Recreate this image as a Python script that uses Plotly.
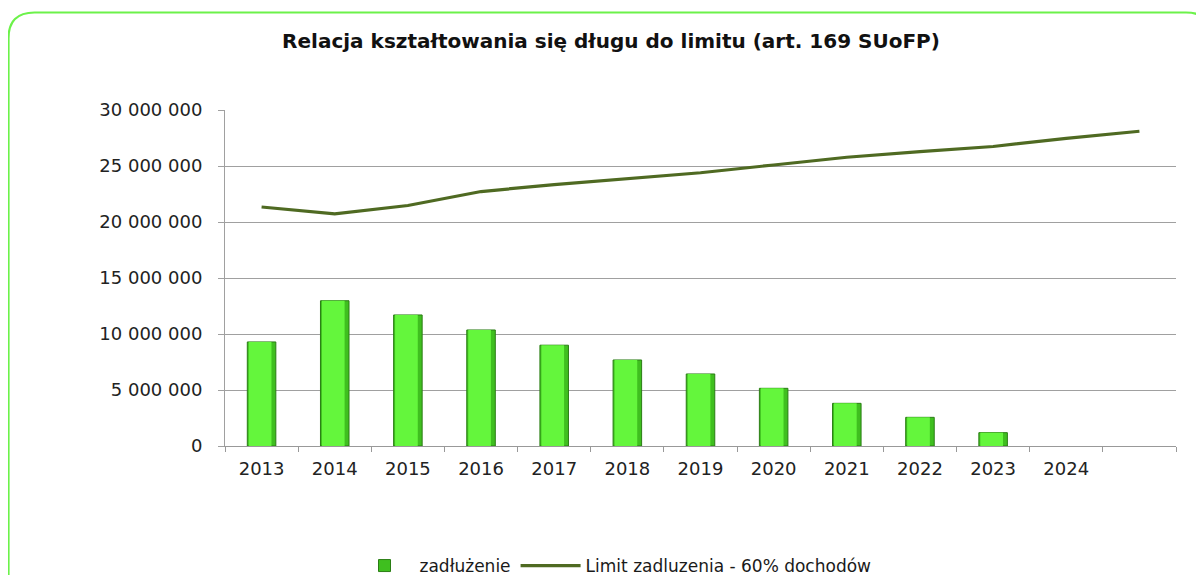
import plotly.graph_objects as go

# ---- data ----
years = ["2013", "2014", "2015", "2016", "2017", "2018", "2019", "2020",
         "2021", "2022", "2023", "2024", " "]
zadluzenie = [9290000, 12970000, 11700000, 10360000, 9000000, 7680000,
              6430000, 5150000, 3810000, 2560000, 1190000, None, None]
limit = [21340000, 20720000, 21470000, 22720000, 23340000, 23880000,
         24400000, 25090000, 25780000, 26290000, 26740000, 27470000, 28100000]
ytick_vals = [0, 5000000, 10000000, 15000000, 20000000, 25000000, 30000000]

# ---- page geometry (the html body adds an 8px margin on every side) ----
OFF = 8
W, H = 1204 - 2 * OFF, 583 - 2 * OFF
L, R, T, B = 225 - OFF, 1176 - OFF, 110 - OFF, 446 - OFF


def px(x):  # page pixel -> paper x
    return (x - OFF - L) / (R - L)


def py(y):  # page pixel -> paper y
    return (B - (y - OFF)) / (B - T)


def cx(x):  # page pixel -> container x
    return (x - OFF) / W


def cy(y):  # page pixel -> container y
    return 1 - (y - OFF) / H


fig = go.Figure()
# bar with darker bevelled edges
fig.add_trace(go.Bar(
    x=years, y=zadluzenie, name="zadłużenie", width=0.39,
    marker=dict(color="#3fbf1f", line=dict(color="#2a7d14", width=1)),
))
# lighter face of the bar
fig.add_trace(go.Bar(
    x=years, y=zadluzenie, name="zadłużenie", width=0.31, offset=-0.175,
    marker=dict(color="#64f63c", line=dict(width=0)),
    showlegend=False, hoverinfo="skip",
))
fig.add_trace(go.Scatter(
    x=years, y=limit, name="Limit zadluzenia - 60% dochodów", mode="lines",
    line=dict(color="#4f6a22", width=3.2),
))

# rounded green frame
x0, x1, y0, y1, r = 8.5, 1212, 12.5, 620, 26
path = (f"M {px(x0)},{py(y1)} L {px(x0)},{py(y0 + r)} "
        f"Q {px(x0)},{py(y0)} {px(x0 + r)},{py(y0)} "
        f"L {px(x1 - r)},{py(y0)} Q {px(x1)},{py(y0)} {px(x1)},{py(y0 + r)} "
        f"L {px(x1)},{py(y1)}")

fig.update_layout(
    width=W, height=H,
    margin=dict(l=L, r=W - R, t=T, b=H - B, pad=0, autoexpand=False),
    paper_bgcolor="white", plot_bgcolor="white",
    separators=", ",
    barmode="overlay",
    font=dict(family="DejaVu Sans", color="#1a1a1a"),
    title=dict(text="<b>Relacja kształtowania się długu do limitu (art. 169 SUoFP)</b>",
               x=cx(611), xref="container", xanchor="center",
               y=cy(41), yref="container", yanchor="middle",
               font=dict(size=20, family="DejaVu Sans", color="#111111")),
    xaxis=dict(type="category", categoryorder="array", categoryarray=years,
               range=[-0.5, 12.5], tickson="boundaries", ticks="outside",
               ticklen=5, tickcolor="#999999", showline=True, linecolor="#999999",
               linewidth=1, showgrid=False, ticklabelstandoff=6,
               tickfont=dict(size=18, family="DejaVu Sans", color="#222222")),
    yaxis=dict(range=[0, 30000000], tickvals=ytick_vals, tickformat=",d",
               showgrid=True, gridcolor="#a0a0a0", gridwidth=1,
               showline=True, linecolor="#a0a0a0", ticks="outside", ticklen=6,
               tickcolor="#a0a0a0", zeroline=False, ticklabelstandoff=12,
               tickfont=dict(size=18, family="DejaVu Sans", color="#222222")),
    showlegend=True,
    legend=dict(orientation="h", xref="container", yref="container",
                x=cx(613), xanchor="center", y=cy(566), yanchor="middle",
                font=dict(size=17, family="DejaVu Sans", color="#1a1a1a"),
                itemwidth=60, traceorder="normal", bgcolor="rgba(0,0,0,0)"),
    shapes=[dict(type="path", path=path, xref="paper", yref="paper",
                 line=dict(color="#6cf24a", width=2.2), layer="above")],
)

fig.write_html("out.html")
